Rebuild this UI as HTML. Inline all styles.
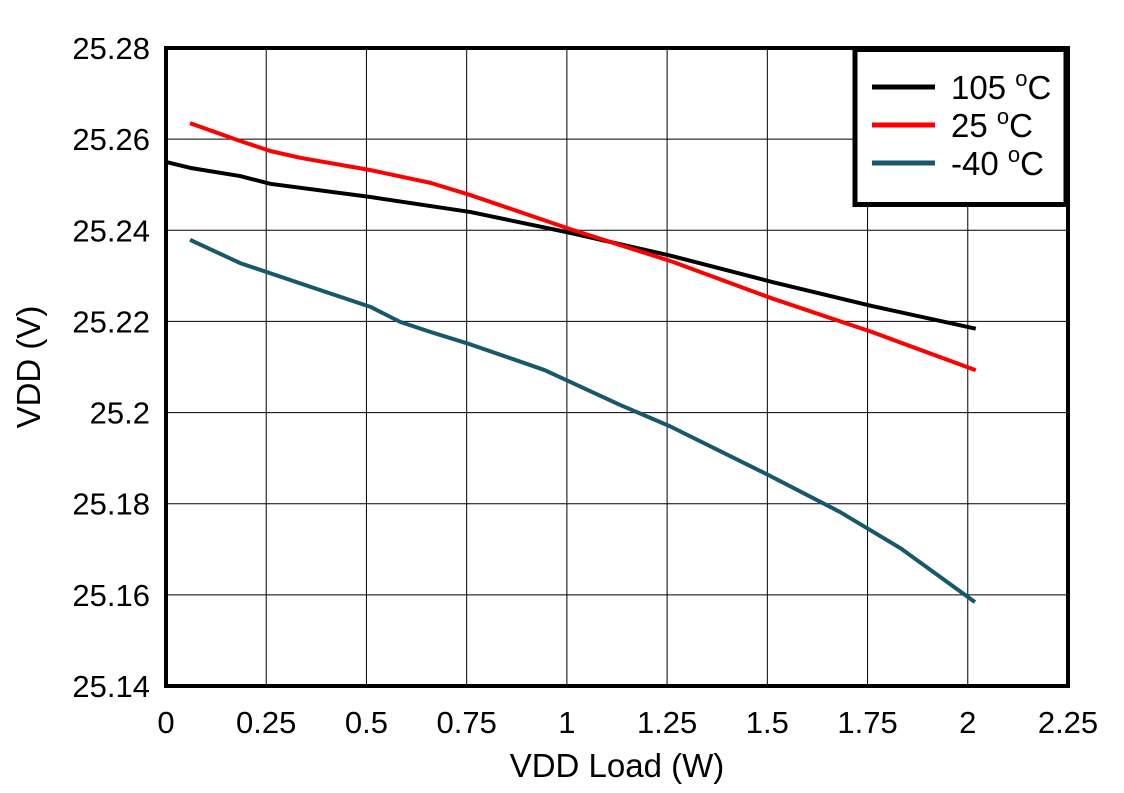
<!DOCTYPE html>
<html><head><meta charset="utf-8"><style>
body{margin:0;background:#fff;}
svg{display:block;font-family:"Liberation Sans",Arial,sans-serif;}
</style></head><body>
<svg id="chart" width="1124" height="793"></svg>
<script>
const xTicks=[0,0.25,0.5,0.75,1,1.25,1.5,1.75,2,2.25];
const xTickLabels=["0","0.25","0.5","0.75","1","1.25","1.5","1.75","2","2.25"];
const yTicks=[25.14,25.16,25.18,25.2,25.22,25.24,25.26,25.28];
const yTickLabels=["25.14","25.16","25.18","25.2","25.22","25.24","25.26","25.28"];
const x105=[0,0.06,0.185,0.26,0.51,0.76,1.01,1.26,1.51,1.76,2.02];
const y105=[25.255,25.2537,25.2519,25.2502,25.2473,25.244,25.2394,25.2344,25.2287,25.2234,25.2184];
const x25=[0.06,0.185,0.26,0.335,0.51,0.66,0.76,1.01,1.26,1.51,1.76,2.02];
const y25=[25.2635,25.2596,25.2574,25.2559,25.2532,25.2504,25.2477,25.2402,25.2332,25.2251,25.2177,25.2093];
const xm40=[0.06,0.185,0.384,0.51,0.584,0.659,0.758,0.945,1.132,1.257,1.507,1.681,1.831,2.018];
const ym40=[25.2379,25.2328,25.2269,25.2232,25.2199,25.2177,25.215,25.2093,25.2017,25.197,25.1861,25.1782,25.1703,25.1584];
const L=166,R=1068,T=48,B=686;
const sx=v=>L+(v-0)/(2.25)*(R-L);
const sy=v=>B-(v-25.14)/(0.14)*(B-T);
const svg=document.getElementById('chart');
const NS='http://www.w3.org/2000/svg';
function mk(tag,attrs,parent){const e=document.createElementNS(NS,tag);for(const k in attrs)e.setAttribute(k,attrs[k]);(parent||svg).appendChild(e);return e;}
xTicks.forEach((t,i)=>{
  const g=mk('line',{x1:sx(t),x2:sx(t),y1:T,y2:B,stroke:'#000','stroke-width':1});
  
  
  const tx=mk('text',{x:sx(t),y:733,'font-size':31,'text-anchor':'middle'});
  tx.textContent=xTickLabels[i];
  
  
});
yTicks.forEach((t,i)=>{
  const g=mk('line',{x1:L,x2:R,y1:sy(t),y2:sy(t),stroke:'#000','stroke-width':1});
  
  
  const tx=mk('text',{x:150,y:sy(t)+11,'font-size':31,'text-anchor':'end'});
  tx.textContent=yTickLabels[i];
  
  
});
function series(xs,ys,color,name){
  const p=mk('polyline',{points:xs.map((x,i)=>sx(x)+','+sy(ys[i])).join(' '),fill:'none',stroke:color,'stroke-width':4,'stroke-linejoin':'round'});
  
  
}
series(x105,y105,'#000','series-105c');
series(x25,y25,'#ff0000','series-25c');
series(xm40,ym40,'#17586a','series-minus40c');
const fr=mk('rect',{x:L,y:T,width:R-L,height:B-T,fill:'none',stroke:'#000','stroke-width':4});


const lg=mk('g',{});


mk('rect',{x:855,y:49.5,width:211,height:155,fill:'#fff',stroke:'#000','stroke-width':5},lg);
const ents=[['105','#000',87],['25','#ff0000',125],['-40','#17586a',163]];
ents.forEach(e=>{
  const g=mk('g',{},lg);
  
  
  mk('line',{x1:872,x2:935,y1:e[2],y2:e[2],stroke:e[1],'stroke-width':5},g);
  const t=mk('text',{x:951,y:e[2]+12,'font-size':33},g);
  t.innerHTML=e[0]+' <tspan dy="-13" font-size="22">o</tspan><tspan dy="13">C</tspan>';
});
const xt=mk('text',{x:617,y:777,'font-size':33,'text-anchor':'middle'});
xt.textContent='VDD Load (W)';


const yt=mk('text',{x:0,y:0,'font-size':33,'text-anchor':'middle',transform:'translate(40,367) rotate(-90)'});
yt.textContent='VDD (V)';


</script>
</body></html>
